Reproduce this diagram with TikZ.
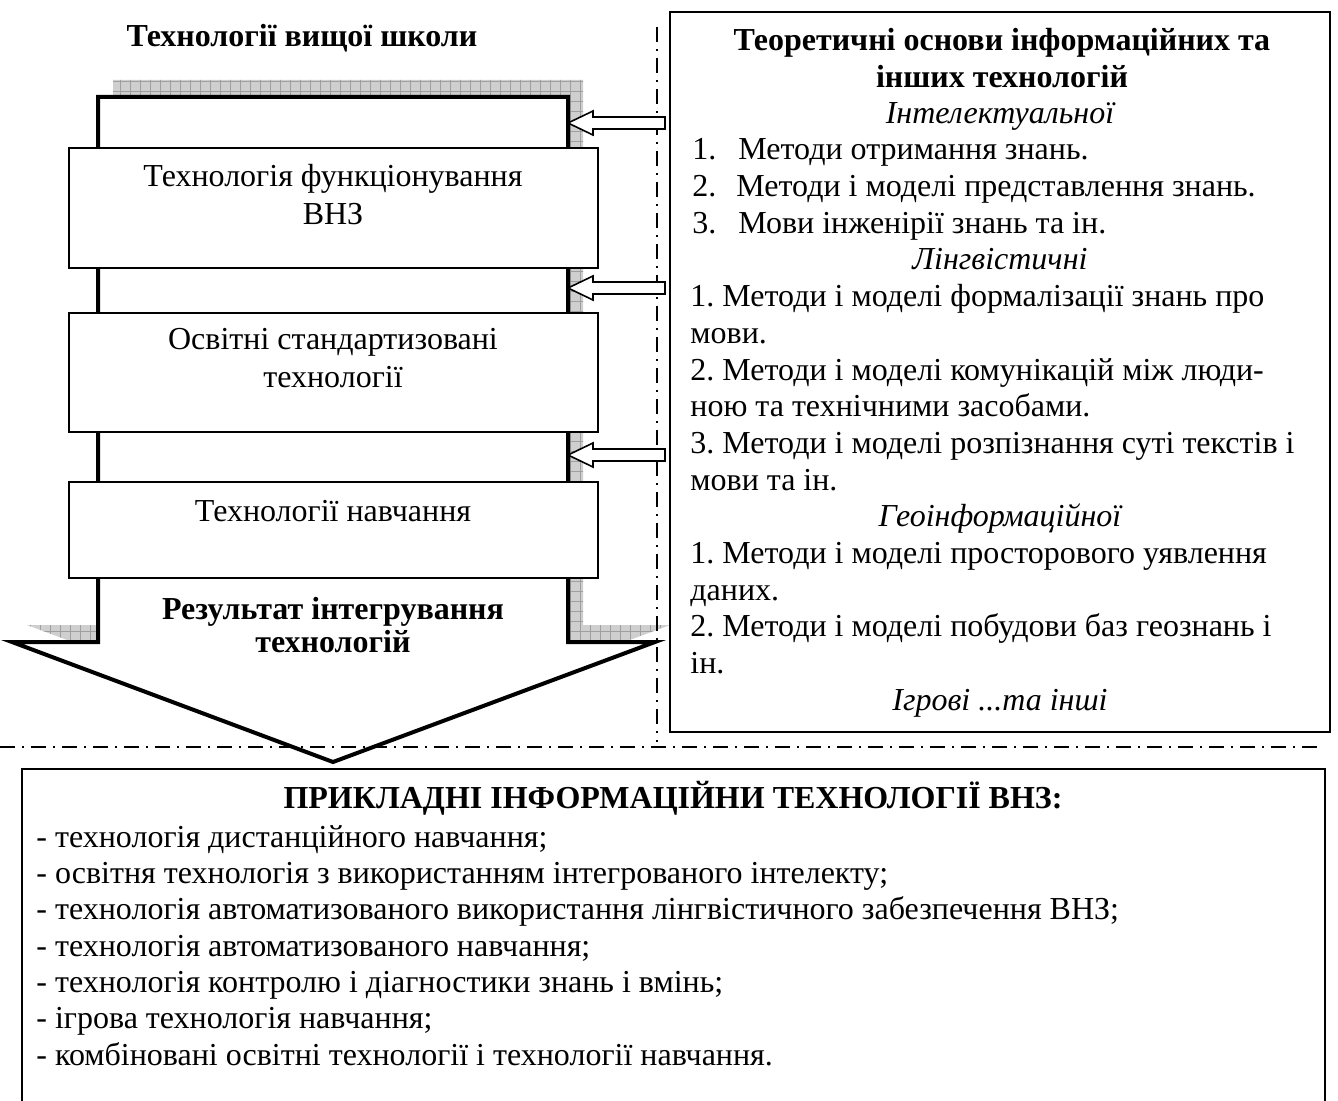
\documentclass[tikz,border=0pt]{standalone}
\usepackage{fontspec}
\setmainfont{Liberation Serif}
\usetikzlibrary{patterns.meta}
\begin{document}
\frenchspacing
\begin{tikzpicture}[x=0.5pt,y=-0.5pt,
  txt/.style={font=\fontsize{16}{18}\selectfont, inner sep=0pt},
  btxt/.style={font=\fontsize{16}{18}\selectfont\bfseries, inner sep=0pt},
  itxt/.style={font=\fontsize{16}{18}\selectfont\itshape, inner sep=0pt},
  lbox/.style={draw, line width=0.8pt, fill=white, inner sep=0pt, anchor=north west, minimum width=264.5pt},
  dashdot/.style={line width=0.75pt, dash pattern=on 7.5pt off 3.5pt on 1pt off 3.5pt},
  barrow/.style={draw, line width=0.8pt, fill=white, line join=miter},
  shadowfill/.style={fill=gray!38, postaction={pattern={Hatch[distance=5pt,angle=0,line width=0.35pt]}, pattern color=gray!75}}
]
\useasboundingbox (0,0) rectangle (1338,1101);

% shadow of the big arrow
\begin{scope}[shift={(15,-17)}]
\fill[shadowfill] (98,97) -- (568,97) -- (568,642) -- (655,642) -- (333,762) -- (12,642) -- (98,642) -- cycle;
\end{scope}
% big arrow
\draw[line width=2pt, fill=white, line join=miter] (98,97) -- (568,97) -- (568,642) -- (655,642) -- (333,762) -- (12,642) -- (98,642) -- cycle;

% dash-dot separators
\coordinate (vt) at (657,27);
\coordinate (vb) at (657,742);
\coordinate (hl) at (0,747);
\coordinate (hr) at (1320,747);
\draw[dashdot] (vt) -- (vb);
\draw[dashdot] (hl) -- (hr);

% title
\node[btxt, anchor=base] (title) at (302,47) {Технології вищої школи};

% left boxes
\node[lbox, minimum height=60pt] (b1) at (68,147) {};
\node[txt, anchor=base] (b1t1) at (333,187) {Технологія функціонування};
\node[txt, anchor=base] (b1t2) at (333,225) {ВНЗ};

\node[lbox, minimum height=59.5pt] (b2) at (68,312) {};
\node[txt, anchor=base] (b2t1) at (333,350) {Освітні стандартизовані};
\node[txt, anchor=base] (b2t2) at (333,388) {технології};

\node[lbox, minimum height=48pt] (b3) at (68,481) {};
\node[txt, anchor=base] (b3t1) at (333,521) {Технології навчання};

\node[btxt, anchor=base] (res1) at (333,619) {Результат інтегрування};
\node[btxt, anchor=base] (res2) at (333,652) {технологій};

% block arrows
\foreach \yy/\nm in {123/a1, 288/a2, 455/a3}{
  \draw[barrow] (568,\yy) -- (593,\yy-12) -- (593,\yy-6) -- (665,\yy-6) -- (665,\yy+6) -- (593,\yy+6) -- (593,\yy+12) -- cycle;
}

% right box
\node[draw, line width=1pt, inner sep=0pt, anchor=north west, minimum width=330pt, minimum height=360pt] (rbox) at (669,11) {};
\node[btxt, anchor=base] (rt1) at (1002,51) {Теоретичні основи інформаційних та};
\node[btxt, anchor=base] (rt2) at (1002,88) {інших технологій};
\node[itxt, anchor=base] (h1) at (1000,123.4) {Інтелектуальної};
\node[txt, anchor=base west] (l1) at (692,160) {\makebox[23pt][l]{1.}Методи отримання знань.};
\node[txt, anchor=base west] (l2) at (692,196.6) {\makebox[22pt][l]{2.}Методи і моделі представлення знань.};
\node[txt, anchor=base west] (l3) at (692,233.3) {\makebox[23pt][l]{3.}Мови інженірії знань та ін.};
\node[itxt, anchor=base] (h2) at (1000,270) {Лінгвістичні};
\node[txt, anchor=base west] (l4) at (690,306.6) {1. Методи і моделі формалізації знань про};
\node[txt, anchor=base west] (l5) at (690,343.3) {мови.};
\node[txt, anchor=base west] (l6) at (690,380) {2. Методи і моделі комунікацій між люди-};
\node[txt, anchor=base west] (l7) at (690,416.6) {ною та технічними засобами.};
\node[txt, anchor=base west] (l8) at (690,453.3) {3. Методи і моделі розпізнання суті текстів і};
\node[txt, anchor=base west] (l9) at (690,490) {мови та ін.};
\node[itxt, anchor=base] (h3) at (1000,526.6) {Геоінформаційної};
\node[txt, anchor=base west] (l10) at (690,563.3) {1. Методи і моделі просторового уявлення};
\node[txt, anchor=base west] (l11) at (690,600) {даних.};
\node[txt, anchor=base west] (l12) at (690,636.6) {2. Методи і моделі побудови баз геознань і};
\node[txt, anchor=base west] (l13) at (690,673.3) {ін.};
\node[itxt, anchor=base] (h4) at (1000,710) {Ігрові ...та інші};

% bottom box (open at the bottom edge of the picture)
\coordinate (bbl) at (22,1110);
\coordinate (btl) at (22,769);
\coordinate (btr) at (1325,769);
\coordinate (bbr) at (1325,1110);
\draw[line width=1pt] (bbl) -- (btl) -- (btr) -- (bbr);
\node[btxt, anchor=base] (bt) at (673,808) {ПРИКЛАДНІ ІНФОРМАЦІЙНИ ТЕХНОЛОГІЇ ВНЗ:};
\node[txt, anchor=base west] (p1) at (36,847) {- технологія дистанційного навчання;};
\node[txt, anchor=base west] (p2) at (36,883.3) {- освітня технологія з використанням інтегрованого інтелекту;};
\node[txt, anchor=base west] (p3) at (36,919.6) {- технологія автоматизованого використання лінгвістичного забезпечення ВНЗ;};
\node[txt, anchor=base west] (p4) at (36,956) {- технологія автоматизованого навчання;};
\node[txt, anchor=base west] (p5) at (36,992.3) {- технологія контролю і діагностики знань і вмінь;};
\node[txt, anchor=base west] (p6) at (36,1028.6) {- ігрова технологія навчання;};
\node[txt, anchor=base west] (p7) at (36,1065) {- комбіновані освітні технології і технології навчання.};
\end{tikzpicture}
\end{document}
